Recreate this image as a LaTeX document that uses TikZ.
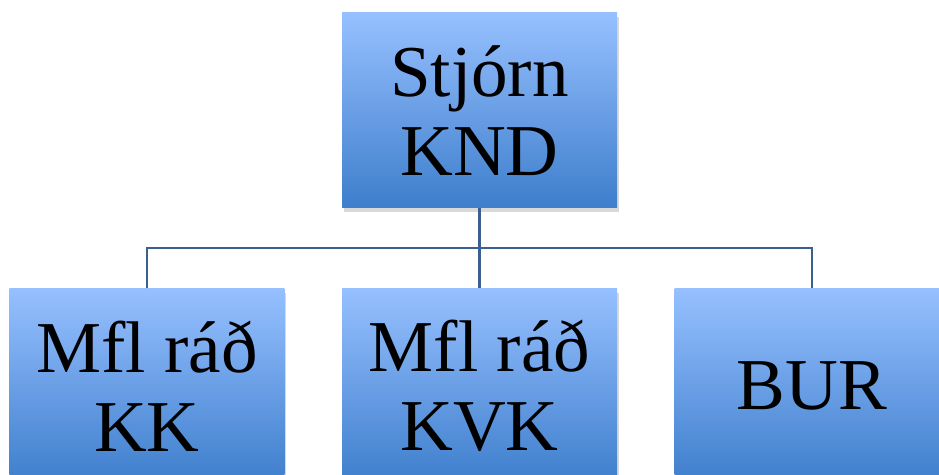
\documentclass[tikz,border=0pt]{standalone}
\usepackage{fontspec}
\setmainfont{Liberation Serif}
\usetikzlibrary{positioning,calc,shadows}
\definecolor{orgTop}{RGB}{150,192,255}
\definecolor{orgBottom}{RGB}{62,126,204}
\definecolor{orgLine}{RGB}{60,95,145}
\tikzset{
    base/.style={font=\fontsize{52}{56}\selectfont, align=center},
    unitbox/.style={base, rectangle, minimum width=6.875cm, minimum height=4.875cm,
                    inner sep=0pt, top color=orgTop, bottom color=orgBottom,
                    drop shadow={opacity=0.3, shadow xshift=0.4mm, shadow yshift=-1mm}},
    link/.style={draw=orgLine, line width=1.7pt}
}

\begin{document}
\begin{tikzpicture}
  \useasboundingbox (0,0) rectangle (23.475,11.875);

  % Board
  \node[unitbox] (board) at (11.9875,9.1125) {Stjórn\\KND};

  % Sub-units
  \node[unitbox, below=2cm of board] (kvk) {Mfl ráð\\KVK};
  \node[unitbox, left=1.425cm of kvk] (kk) {Mfl ráð\\KK};
  \node[unitbox, right=1.425cm of kvk] (bur) {BUR};

  % Connectors
  \coordinate (bus) at ($(board.south)!0.5!(kvk.north)$);
  \draw[link] (board.south) -- (kvk.north);
  \draw[link] (kk.north) |- (bus) -| (bur.north);
\end{tikzpicture}
\end{document}
